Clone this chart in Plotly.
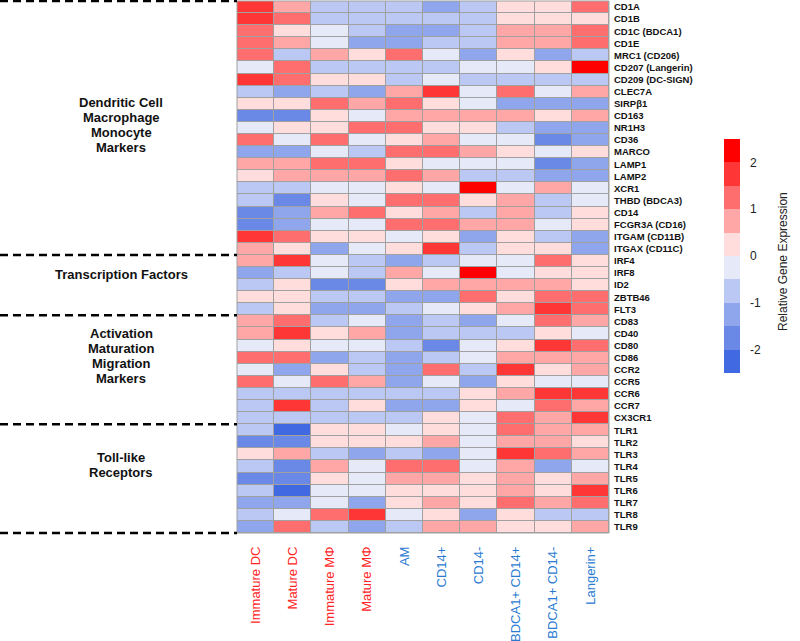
import plotly.graph_objects as go

# ---------------- data ----------------
cell_types = ["Immature DC", "Mature DC", "Immature MΦ", "Mature MΦ", "AM",
              "CD14+", "CD14-", "BDCA1+ CD14+", "BDCA1+ CD14-", "Langerin+"]
cell_colors = ["#FF2424"] * 4 + ["#2A7AD2"] * 6

dc_genes = ["CD1A", "CD1B", "CD1C (BDCA1)", "CD1E", "MRC1 (CD206)", "CD207 (Langerin)",
            "CD209 (DC-SIGN)", "CLEC7A", "SIRPβ1", "CD163", "NR1H3", "CD36", "MARCO",
            "LAMP1", "LAMP2", "XCR1", "THBD (BDCA3)", "CD14", "FCGR3A (CD16)",
            "ITGAM (CD11B)", "ITGAX (CD11C)"]
dc_values = [
    [1.8, 0.8, -0.8, -0.8, -0.8, -1.3, -0.8, 0.3, 0.3, 1.3],
    [1.8, 1.3, -0.8, -0.8, -0.8, -0.8, -0.8, 0.3, 0.3, 0.3],
    [1.3, 0.3, -0.3, -0.8, -1.3, -1.3, -0.8, 0.8, 0.8, 1.3],
    [1.3, 0.8, -0.3, -1.3, -1.3, -0.8, -0.8, 0.8, 0.8, 1.3],
    [1.3, -0.8, 0.8, 0.3, 1.3, -0.3, -1.3, 0.3, -1.3, -0.8],
    [-0.3, 1.3, -0.8, -0.8, -0.8, -0.8, -0.3, -0.3, 0.3, 2.3],
    [1.8, 1.3, 0.3, 0.3, -0.8, -0.3, -0.8, -0.8, -0.8, -0.8],
    [-0.8, -1.3, -0.8, -1.3, 0.8, 1.8, -0.3, 1.3, -0.3, 0.8],
    [0.3, 0.3, 1.3, 0.8, 1.3, 0.3, -0.3, -1.3, -1.3, -1.3],
    [-1.8, -1.8, 0.3, -0.3, 0.8, 0.8, 0.8, 0.8, 0.3, 0.8],
    [-0.3, 0.3, 0.3, 1.3, 1.3, 0.3, 0.3, -0.8, -1.3, -1.3],
    [1.3, -0.3, 1.3, -0.3, 0.3, 0.8, -0.3, -0.3, -1.8, -1.3],
    [-1.3, -1.3, -0.3, -0.8, 1.3, 1.3, 0.8, 0.3, -0.3, 0.3],
    [0.8, 0.8, 1.3, 1.3, 0.3, -0.3, -0.3, -0.3, -1.8, -1.3],
    [0.3, 0.8, 0.8, 0.8, 1.3, 0.8, -0.8, -0.8, -1.3, -1.3],
    [-0.8, -0.8, -0.3, -0.3, 0.3, -0.3, 2.3, -0.3, 0.8, -0.3],
    [-0.8, -1.8, 0.3, -0.3, 1.3, 1.3, 0.3, 0.8, -0.8, -0.3],
    [-1.8, -1.3, 0.8, 1.3, 0.3, 0.8, -0.8, 0.8, -0.8, 0.3],
    [-1.8, -1.3, -0.3, -0.3, 1.3, 1.3, 0.8, 0.8, -0.3, 0.3],
    [1.8, 1.3, 0.3, 0.3, -0.3, 0.3, -1.3, 0.3, -0.8, -1.3],
    [0.8, 0.3, -1.3, -0.3, 0.3, 1.8, -0.8, 0.3, 0.3, -1.3],
]

tf_genes = ["IRF4", "IRF8", "ID2", "ZBTB46", "FLT3"]
tf_values = [
    [0.8, 1.8, -0.3, -0.8, -1.3, -0.8, -0.3, -0.3, 1.3, 0.3],
    [-1.3, -0.8, -0.3, -0.8, 0.8, -0.3, 2.3, -0.3, 0.3, 0.3],
    [-0.8, 0.3, -1.8, -1.8, 0.3, 0.8, 0.8, 0.8, 0.8, 0.3],
    [0.3, 0.3, -0.8, -0.8, -1.3, -1.3, 1.3, 0.3, 1.3, 1.3],
    [-0.8, 0.3, -1.3, -1.3, -0.8, -0.3, 0.3, 0.8, 1.8, 1.3],
]

act_genes = ["CD83", "CD40", "CD80", "CD86", "CCR2", "CCR5", "CCR6", "CCR7", "CX3CR1"]
act_values = [
    [0.8, 1.3, -0.8, -0.3, -1.3, -0.8, -1.3, -0.3, 1.3, 0.8],
    [0.8, 1.8, 0.3, 0.8, -1.3, -0.8, -0.8, -0.8, 0.3, -0.3],
    [-0.3, 0.3, -0.3, -0.3, -0.8, -1.8, -0.3, 0.3, 1.8, 1.3],
    [1.3, 1.3, -1.3, -0.8, -1.3, -0.8, -0.3, 0.8, 0.8, 0.8],
    [-0.3, -1.3, 0.3, -0.8, -1.3, 1.3, -0.8, 1.8, 0.3, 0.8],
    [1.3, -0.3, 1.3, 0.8, -1.3, -0.3, -1.3, 0.3, -0.3, -0.3],
    [-0.8, -0.8, -0.8, -0.8, -0.8, -0.8, 0.3, 0.8, 1.8, 1.8],
    [-0.8, 1.8, -0.8, 0.3, -1.3, -1.3, 0.3, -0.3, 1.3, 0.8],
    [-0.8, -0.8, -0.8, -0.8, -0.8, 0.3, -0.3, 1.3, 0.8, 1.8],
]

tlr_genes = ["TLR1", "TLR2", "TLR3", "TLR4", "TLR5", "TLR6", "TLR7", "TLR8", "TLR9"]
tlr_values = [
    [-0.8, -2.3, 0.3, 0.3, -0.3, 0.3, -0.3, 1.3, 0.8, 0.8],
    [-1.8, -1.8, 0.3, 0.3, 0.3, 0.8, -0.3, 0.8, 0.8, 0.3],
    [0.3, 0.8, -0.8, -1.3, -0.8, -1.3, -0.3, 1.8, 1.3, 0.8],
    [-0.8, -1.8, 0.8, -0.3, 1.3, 1.3, -0.3, 0.8, -1.3, -0.3],
    [-1.8, -1.8, 0.3, -0.3, 0.8, 0.8, 0.3, 0.8, 0.3, 0.8],
    [-0.8, -2.3, -0.3, -0.3, 0.3, 0.3, 0.3, 0.8, 0.3, 1.8],
    [-1.3, -1.3, -0.3, -1.3, 0.3, 0.8, 0.3, 1.3, 0.8, 1.3],
    [-0.8, -0.3, 1.3, 1.8, -0.3, 0.3, -1.3, 0.3, -0.8, -0.8],
    [-1.3, 1.3, -0.8, -1.3, -0.8, 0.8, 0.8, 0.3, 0.3, 0.8],
]

group_labels = [["Dendritic Cell", "Macrophage", "Monocyte", "Markers"],
                ["Transcription Factors"],
                ["Activation", "Maturation", "Migration", "Markers"],
                ["Toll-like", "Receptors"]]

bin_colors = ["#4169E1", "#6A89E6", "#8FA6EC", "#BBC8F3", "#E6EAF8",
              "#FFDDDD", "#FFA6A6", "#FF6E6E", "#FF3636", "#FF0000"]
colorbar_ticks = [-2, -1, 0, 1, 2]
colorbar_title = "Relative Gene Expression"

# ---------------- build ----------------
genes = dc_genes + tf_genes + act_genes + tlr_genes
z = dc_values + tf_values + act_values + tlr_values
group_sizes = [len(dc_genes), len(tf_genes), len(act_genes), len(tlr_genes)]
n_rows = len(genes)

colorscale = []
nb = len(bin_colors)
for i, c in enumerate(bin_colors):
    colorscale.append([i / nb, c])
    colorscale.append([(i + 1) / nb, c])

FONT = "Arial, Liberation Sans, sans-serif"

W, H = 800, 641
L, R, T, B = 237, 191, 1, 108
plot_w = W - L - R
plot_h = H - T - B

fig = go.Figure(go.Heatmap(
    z=z,
    x=list(range(len(cell_types))),
    y=list(range(n_rows)),
    colorscale=colorscale,
    zmin=-2.5, zmax=2.5,
    xgap=1, ygap=1,
    colorbar=dict(
        tickvals=colorbar_ticks,
        ticktext=[str(t) for t in colorbar_ticks],
        ticks="outside", ticklen=8, tickcolor="rgba(0,0,0,0)",
        tickfont=dict(family=FONT, size=12, color="#222"),
        thickness=16, thicknessmode="pixels",
        len=234, lenmode="pixels",
        x=(724 - L) / plot_w, xanchor="left", xpad=0,
        y=1 - (256 - T) / plot_h, yanchor="middle", ypad=0,
        outlinewidth=0,
    ),
    hovertemplate="%{y}<br>%{x}<br>%{z}<extra></extra>",
))

fig.update_xaxes(
    tickmode="array",
    tickvals=list(range(len(cell_types))),
    ticktext=[f'<span style="color:{c}">{t}</span>' for t, c in zip(cell_types, cell_colors)],
    tickangle=-90,
    tickfont=dict(family=FONT, size=13),
    ticks="", ticklabelstandoff=10,
    showgrid=False, zeroline=False, showline=False,
    range=[-0.5, len(cell_types) - 0.5],
    automargin=False,
)
fig.update_yaxes(
    tickmode="array",
    tickvals=list(range(n_rows)),
    ticktext=genes,
    side="right",
    tickfont=dict(family=FONT, size=9.5, color="#111", weight="bold"),
    ticks="", ticklabelstandoff=4,
    showgrid=False, zeroline=False, showline=False,
    range=[n_rows - 0.5, -0.5],
    automargin=False,
)

shapes = [dict(type="rect", xref="paper", yref="paper", x0=0, x1=1, y0=0, y1=1,
               line=dict(color="#A0A0A0", width=1))]
annotations = []
cum = 0
bounds = [0]
for s in group_sizes:
    cum += s
    bounds.append(cum)
for b in bounds:
    yp = 1 - b / n_rows
    shapes.append(dict(type="line", xref="paper", yref="paper",
                       x0=-L / plot_w, x1=0, y0=yp, y1=yp,
                       line=dict(color="black", width=2.5, dash="8px,5px")))

label_offsets = [0.27, 0.85, 1.1, 1.1]  # rows above group centre
line_step = 15
for gi, lines in enumerate(group_labels):
    centre_row = (bounds[gi] + bounds[gi + 1] - 1) / 2 - label_offsets[gi]
    yp = 1 - (centre_row + 0.5) / n_rows
    nl = len(lines)
    for li, txt in enumerate(lines):
        annotations.append(dict(
            text=f"<b>{txt}</b>", xref="paper", yref="paper",
            x=(121 - L) / plot_w, y=yp, xanchor="center", yanchor="middle",
            yshift=-(li - (nl - 1) / 2) * line_step,
            showarrow=False, font=dict(family=FONT, size=13, color="#111")))

# colour bar title (rotated)
annotations.append(dict(
    text=colorbar_title, xref="paper", yref="paper",
    x=(783 - L) / plot_w, y=1 - (262 - T) / plot_h,
    xanchor="center", yanchor="middle", textangle=-90,
    showarrow=False, font=dict(family=FONT, size=12, color="#222")))

fig.update_layout(
    width=W, height=H,
    margin=dict(l=L, r=R, t=T, b=B, autoexpand=False),
    paper_bgcolor="white",
    plot_bgcolor="#A0A0A0",
    shapes=shapes,
    annotations=annotations,
    font=dict(family=FONT),
)

fig.write_html("out.html",
               config={"displayModeBar": False},
               post_script="document.body.style.margin='0';document.body.style.overflow='hidden';")
